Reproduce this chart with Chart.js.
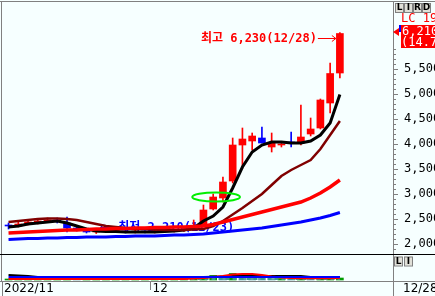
<!doctype html>
<html>
<head>
<meta charset="utf-8">
<title>Daily Candle Chart</title>
<script src="https://cdn.jsdelivr.net/npm/chart.js@4.4.1/dist/chart.umd.min.js"></script>
<style>
  html, body { margin: 0; padding: 0; background: #f6ffff; }
  canvas { display: block; }
</style>
</head>
<body>
<canvas id="canvas" width="435" height="296"></canvas>
<script>
// trading days shown (2022/11/10 ~ 12/28)
var dates = ['11/10', '11/11', '11/14', '11/15', '11/16', '11/17', '11/18', '11/21', '11/22', '11/23',
  '11/24', '11/25', '11/28', '11/29', '11/30', '12/01', '12/02', '12/05', '12/06', '12/07',
  '12/08', '12/09', '12/12', '12/13', '12/14', '12/15', '12/16', '12/19', '12/20', '12/21',
  '12/22', '12/23', '12/26', '12/27', '12/28'];

var openP = [2380, 2360, 2400, 2440, 2460, 2480, 2420, 2320, 2280, 2240,
  2260, 2250, 2260, 2240, 2250, 2240, 2250, 2260, 2270, 2300,
  2380, 2700, 2920, 3260, 3980, 4060, 4120, 3940, 3980, 4040,
  4020, 4200, 4320, 4820, 5420];
var highP = [2420, 2440, 2480, 2500, 2520, 2520, 2540, 2360, 2300, 2290,
  2290, 2300, 2280, 2280, 2270, 2280, 2290, 2300, 2320, 2480,
  2780, 3000, 3340, 4120, 4320, 4220, 4340, 4220, 4040, 4240,
  4780, 4520, 4900, 5620, 6230];
var lowP = [2300, 2340, 2380, 2400, 2440, 2420, 2240, 2260, 2220, 2210,
  2230, 2230, 2220, 2220, 2220, 2220, 2230, 2240, 2250, 2280,
  2360, 2680, 2840, 3220, 3520, 3880, 4020, 3840, 3940, 3940,
  3980, 4160, 4300, 4620, 5320];
var closeP = [2360, 2400, 2440, 2460, 2480, 2460, 2320, 2280, 2240, 2260,
  2250, 2260, 2240, 2250, 2240, 2250, 2260, 2270, 2290, 2340,
  2680, 2940, 3240, 3980, 4100, 4160, 4020, 4020, 4000, 4020,
  4140, 4300, 4880, 5410, 6210];

// moving averages
var ma5 = [2340, 2360, 2400, 2420, 2440, 2460, 2420, 2360, 2300, 2260,
  2250, 2250, 2240, 2240, 2240, 2240, 2250, 2260, 2280, 2320,
  2460, 2560, 2740, 3120, 3540, 3840, 3980, 4040, 4040, 4020,
  4020, 4060, 4180, 4420, 4990];
var ma20 = [2440, 2460, 2480, 2500, 2510, 2510, 2500, 2480, 2440, 2400,
  2360, 2340, 2320, 2300, 2300, 2290, 2280, 2280, 2280, 2290,
  2300, 2360, 2460, 2590, 2720, 2860, 3000, 3180, 3360, 3480,
  3580, 3680, 3900, 4180, 4460];
var ma60 = [2220, 2230, 2240, 2250, 2260, 2270, 2280, 2280, 2290, 2300,
  2300, 2310, 2310, 2320, 2320, 2330, 2330, 2340, 2340, 2350,
  2360, 2390, 2440, 2490, 2540, 2590, 2640, 2690, 2740, 2790,
  2840, 2920, 3020, 3140, 3280];
var ma120 = [2090, 2100, 2110, 2110, 2120, 2120, 2130, 2130, 2140, 2140,
  2140, 2150, 2150, 2160, 2160, 2160, 2170, 2180, 2180, 2190,
  2200, 2220, 2240, 2260, 2280, 2300, 2320, 2350, 2380, 2410,
  2440, 2480, 2520, 2570, 2630];

// volume (10k shares) and its averages
var volume = [1, 1, 1, 1, 1, 1, 1.5, 1, 1, 1,
  1, 1, 1, 1, 1, 1, 1, 1, 1, 1.5,
  3.5, 4.5, 3.5, 6.5, 3.5, 2.5, 2, 1.5, 1.5, 1.2,
  2, 1.5, 2, 2, 2];
var volMa5 = [1, 1, 1, 1, 1, 1, 1, 1, 1, 1,
  1, 1, 1, 1, 1, 1, 1, 1, 1, 1.5,
  2, 3, 4, 5.5, 6, 6, 5, 3.5, 2.5, 2,
  1.8, 1.7, 1.7, 1.8, 2];
var volMa20 = [5, 4.5, 4, 3, 3, 3, 3, 3, 3, 3,
  3, 3, 3, 3, 3, 3, 3, 3, 3, 3,
  3, 3.2, 3.5, 4, 4, 4, 4, 4, 4, 4,
  4, 3, 3, 3, 3];
var volMa60 = [3, 3, 3, 3, 3, 3, 3, 3, 3, 3,
  3, 3, 3, 3, 3, 3, 3, 3, 3, 3,
  3, 3, 3, 3, 3, 3, 3, 3, 3, 3,
  3, 3, 3, 3, 3];
var volMa120 = [1, 1, 1, 1, 1, 1, 1, 1, 1, 1,
  1, 1, 1, 1, 1, 1, 1, 1, 1, 1,
  1, 1, 1, 1, 1, 1, 1, 1, 1, 1,
  1, 1, 1, 1, 1];

var priceTicks = [2000, 2500, 3000, 3500, 4000, 4500, 5000, 5500];
var monthStart = 15; // first December session
var firstLabel = '2022/11';

var UP = '#ff0000', DOWN = '#0000ff';
var MONO = '12px "DejaVu Sans Mono", "Noto Sans CJK KR", monospace';
var MONO_B = 'bold 12px "DejaVu Sans Mono", "Noto Sans CJK KR", monospace';

function pts(arr) {
  return arr.map(function(v, i) { return {x: i, y: v}; });
}
function fmt(v) {
  return v.toLocaleString('en-US');
}

var candleColors = closeP.map(function(c, i) { return c >= openP[i] ? UP : DOWN; });
var volColors = volume.map(function(v, i) { return i > 0 && v < volume[i - 1] ? '#5f9f9f' : '#009c00'; });

function maLine(data, color, width, axis) {
  return {
    type: 'line',
    data: pts(data),
    borderColor: color,
    borderWidth: width,
    pointRadius: 0,
    yAxisID: axis || 'y'
  };
}

var overlay = {
  id: 'overlay',
  beforeDraw: function(chart) {
    var ctx = chart.ctx;
    ctx.save();
    ctx.fillStyle = '#f6ffff';
    ctx.fillRect(0, 0, chart.width, chart.height);
    ctx.restore();
  },
  beforeDatasetsDraw: function(chart) {
    // low marker, it sits below the moving average lines
    var xs = chart.scales.x, ys = chart.scales.y, ctx = chart.ctx;
    var lo = Math.min.apply(null, lowP), li = lowP.indexOf(lo);
    var px = xs.getPixelForValue(li) + 4, py = Math.round(ys.getPixelForValue(lo) - 6.5) + 0.5;
    ctx.save();
    ctx.strokeStyle = DOWN;
    ctx.fillStyle = DOWN;
    ctx.lineWidth = 1;
    ctx.beginPath();
    ctx.moveTo(px, py); ctx.lineTo(px + 16, py);
    ctx.moveTo(px, py); ctx.lineTo(px + 4, py - 3);
    ctx.moveTo(px, py); ctx.lineTo(px + 4, py + 3);
    ctx.stroke();
    ctx.font = MONO_B;
    ctx.textBaseline = 'middle';
    ctx.fillText('최저 ' + fmt(lo) + '(' + dates[li] + ')', px + 18, py);
    ctx.restore();
  },
  afterDatasetsDraw: function(chart) {
    var xs = chart.scales.x, ys = chart.scales.y, ctx = chart.ctx;
    var area = chart.chartArea;
    var W = chart.width, H = chart.height;
    ctx.save();

    // green ellipse around the breakout candles
    ctx.strokeStyle = '#00ee00';
    ctx.lineWidth = 2;
    var ex = xs.getPixelForValue(21.3), ey = ys.getPixelForValue(2940);
    var erx = xs.getPixelForValue(21.3 + 2.45) - ex, ery = ys.getPixelForValue(2940) - ys.getPixelForValue(3030);
    ctx.beginPath();
    ctx.ellipse(ex, ey, erx, ery, 0, 0, Math.PI * 2);
    ctx.stroke();

    // high marker
    var hi = Math.max.apply(null, highP), hiIdx = highP.indexOf(hi);
    var hx = xs.getPixelForValue(hiIdx) - 4, hy = Math.round(ys.getPixelForValue(hi) + 5.5) + 0.5;
    ctx.strokeStyle = UP;
    ctx.fillStyle = UP;
    ctx.lineWidth = 1;
    ctx.beginPath();
    ctx.moveTo(hx - 18, hy); ctx.lineTo(hx, hy);
    ctx.moveTo(hx, hy); ctx.lineTo(hx - 4, hy - 3);
    ctx.moveTo(hx, hy); ctx.lineTo(hx - 4, hy + 3);
    ctx.stroke();
    ctx.font = MONO_B;
    ctx.textBaseline = 'middle';
    ctx.textAlign = 'right';
    ctx.fillText('최고 ' + fmt(hi) + '(' + dates[hiIdx] + ')', hx - 19, hy);

    // frame lines
    ctx.strokeStyle = '#808080';
    ctx.beginPath();
    ctx.moveTo(0, 1.5); ctx.lineTo(W, 1.5);
    ctx.moveTo(1.5, 1); ctx.lineTo(1.5, area.bottom);
    ctx.moveTo(area.right + 0.5, 1); ctx.lineTo(area.right + 0.5, H);
    ctx.moveTo(0, area.bottom + 0.5); ctx.lineTo(W, area.bottom + 0.5);
    ctx.stroke();
    var divY = Math.round(ys.getPixelForValue(1800)) + 0.5;
    ctx.strokeStyle = '#000000';
    ctx.beginPath();
    ctx.moveTo(0, divY); ctx.lineTo(W, divY);
    ctx.stroke();

    // price axis ticks and labels
    ctx.strokeStyle = '#808080';
    ctx.beginPath();
    for (var v = 1900; v <= 5900; v += 100) {
      var ty = Math.round(ys.getPixelForValue(v)) + 0.5;
      var len = v % 500 === 0 ? 5 : 3;
      ctx.moveTo(area.right, ty); ctx.lineTo(area.right + len, ty);
    }
    ctx.stroke();
    ctx.fillStyle = '#000000';
    ctx.font = MONO;
    ctx.textAlign = 'left';
    priceTicks.forEach(function(t) {
      ctx.fillText(fmt(t), area.right + 11, ys.getPixelForValue(t));
    });

    // last price box
    var last = closeP.length - 1;
    var cy = Math.round(ys.getPixelForValue(closeP[last]));
    var pct = (closeP[last] / closeP[last - 1] - 1) * 100;
    ctx.fillStyle = UP;
    ctx.fillText('LC 191', area.right + 8, cy - 15);
    ctx.fillRect(area.right + 8, cy - 9, 40, 23);
    ctx.beginPath();
    ctx.moveTo(area.right, cy - 2);
    ctx.lineTo(area.right + 6, cy - 6);
    ctx.lineTo(area.right + 6, cy + 2);
    ctx.closePath();
    ctx.fill();
    ctx.fillStyle = DOWN;
    ctx.fillRect(area.right + 6, cy - 9, 2, 7);
    ctx.fillStyle = '#ffffff';
    ctx.fillText(fmt(closeP[last]), area.right + 9, cy - 2);
    ctx.fillText('(' + pct.toFixed(2) + '%)', area.right + 8, cy + 9);

    // small buttons
    function btn(label, bx, by) {
      ctx.fillStyle = '#e0e0d8';
      ctx.fillRect(bx, by, 8, 9);
      ctx.strokeStyle = '#808080';
      ctx.strokeRect(bx + 0.5, by + 0.5, 8, 9);
      ctx.fillStyle = '#000000';
      ctx.font = 'bold 9px "DejaVu Sans"';
      ctx.textAlign = 'center';
      ctx.fillText(label, bx + 4.5, by + 5);
    }
    ['L', 'I', 'R', 'D'].forEach(function(s, k) { btn(s, area.right + 2 + k * 9, 3); });
    ['L', 'I'].forEach(function(s, k) { btn(s, area.right + 1 + k * 10, divY + 2); });

    // date axis
    ctx.textAlign = 'left';
    ctx.fillStyle = '#000000';
    ctx.font = '12px "DejaVu Sans"';
    var dy = area.bottom + 8;
    ctx.fillText(firstLabel, 4, dy);
    var mx = Math.round(xs.getPixelForValue(monthStart - 0.5)) + 0.5;
    ctx.strokeStyle = '#808080';
    ctx.beginPath();
    ctx.moveTo(mx, area.bottom); ctx.lineTo(mx, area.bottom + 9);
    ctx.moveTo(2.5, area.bottom); ctx.lineTo(2.5, H);
    ctx.stroke();
    ctx.fillText(dates[monthStart].slice(0, 2), mx + 2, dy);
    ctx.fillText(dates[last], area.right + 10, dy);
    ctx.restore();
  }
};

window.onload = function() {
  var ctx = document.getElementById('canvas').getContext('2d');
  window.myChart = new Chart(ctx, {
    type: 'bar',
    data: {
      datasets: [
        maLine(ma120, '#0000ff', 3),
        maLine(ma60, '#ff0000', 3.5),
        maLine(ma20, '#800000', 2.5),
        maLine(ma5, '#000000', 3),
        {
          // candle bodies
          data: openP.map(function(o, i) { return {x: i, y: [o, closeP[i]]}; }),
          backgroundColor: candleColors,
          barThickness: 7,
          minBarLength: 1,
          grouped: false,
          yAxisID: 'y'
        },
        {
          // wicks
          data: lowP.map(function(l, i) { return {x: i, y: [l, highP[i]]}; }),
          backgroundColor: candleColors,
          barThickness: 1,
          grouped: false,
          yAxisID: 'y'
        },
        maLine(volMa60, '#0000ff', 2, 'yv'),
        maLine(volMa5, '#ff0000', 2, 'yv'),
        maLine(volMa20, '#000000', 2, 'yv'),
        Object.assign(maLine(volMa120, '#3a9a8a', 2, 'yv'), {borderDash: [4, 3]}),
        {
          data: pts(volume),
          backgroundColor: volColors,
          barThickness: 7,
          grouped: false,
          yAxisID: 'yv'
        }
      ]
    },
    options: {
      responsive: false,
      devicePixelRatio: 1,
      animation: false,
      layout: { padding: { left: 2, top: 2, right: 42, bottom: 15 } },
      scales: {
        x: { type: 'linear', min: -0.67, max: 39.45, offset: false, display: false },
        y: { type: 'linear', min: 1260, max: 6840, display: false },
        yv: { type: 'linear', min: -1, max: 278, display: false }
      },
      plugins: {
        legend: { display: false },
        tooltip: { enabled: false }
      }
    },
    plugins: [overlay]
  });
};
</script>
</body>
</html>
